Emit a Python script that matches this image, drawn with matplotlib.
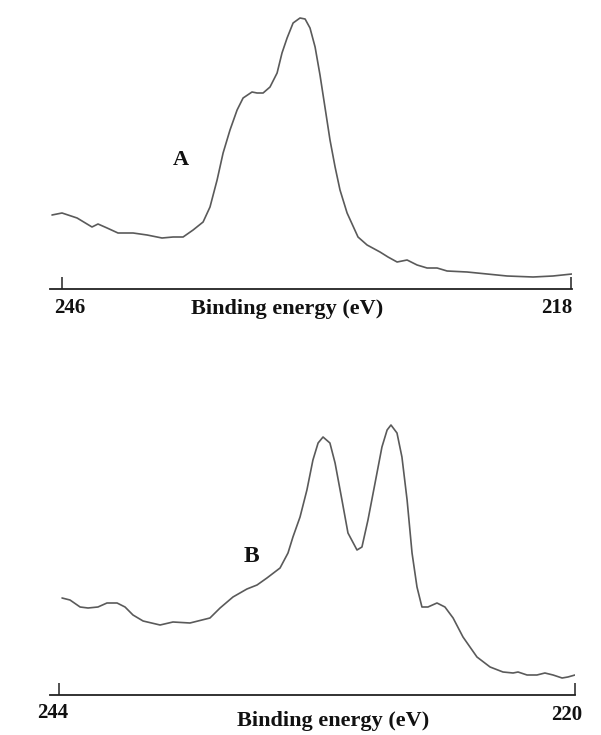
import matplotlib
matplotlib.use("Agg")
import matplotlib.pyplot as plt

# ---- Data (binding energy in eV, intensity in arbitrary units) ----
energy_a = [246.55, 246.0, 245.17, 244.35, 244.02, 243.52, 242.92, 242.09, 241.32, 240.50,
            239.89, 239.34, 238.79, 238.24, 237.86, 237.47, 237.14, 236.76, 236.37, 236.04,
            235.55, 235.27, 234.94, 234.56, 234.17, 233.90, 233.62, 233.29, 232.91, 232.63,
            232.36, 232.08, 231.81, 231.53, 231.26, 230.98, 230.71, 230.32, 229.72, 229.22,
            228.51, 228.07, 227.57, 227.02, 226.47, 225.92, 225.37, 224.82, 223.72, 222.62,
            221.52, 220.09, 219.0, 217.95]
intensity_a = [74, 76, 71, 62, 65, 61, 56, 56, 54, 51,
               52, 52, 59, 67, 82, 109, 136, 159, 179, 191,
               197, 196, 196, 202, 216, 236, 251, 266, 271, 270,
               261, 242, 214, 181, 149, 122, 99, 76, 52, 44,
               37, 32, 27, 29, 24, 21, 21, 18, 17, 15,
               13, 12, 13, 15]

energy_b = [243.86, 243.49, 243.02, 242.65, 242.19, 241.77, 241.30, 240.93, 240.56, 240.09,
            239.30, 238.70, 237.91, 236.98, 236.51, 235.91, 235.26, 234.79, 234.33, 233.72,
            233.35, 233.12, 232.79, 232.47, 232.19, 231.95, 231.72, 231.40, 231.16, 230.84,
            230.56, 230.14, 229.91, 229.63, 229.30, 228.98, 228.74, 228.56, 228.28, 228.05,
            227.81, 227.58, 227.35, 227.12, 226.84, 226.42, 226.05, 225.67, 225.21, 224.56,
            223.95, 223.35, 222.88, 222.65, 222.23, 221.77, 221.40, 221.02, 220.60, 220.33,
            220.0]
intensity_b = [97, 95, 88, 87, 88, 92, 92, 88, 80, 74,
               70, 73, 72, 77, 87, 98, 106, 110, 117, 127,
               142, 158, 178, 205, 235, 252, 258, 252, 232, 195,
               162, 145, 148, 175, 212, 248, 265, 270, 262, 238,
               195, 142, 108, 88, 88, 92, 88, 77, 58, 38,
               28, 23, 22, 23, 20, 20, 22, 20, 17, 18,
               20]

ticks_a = [246, 218]
ticks_b = [244, 220]
tick_labels_a = ["246", "218"]
tick_labels_b = ["244", "220"]
xlabel = "Binding energy (eV)"
panel_labels = ["A", "B"]

W, H = 601, 735
fig = plt.figure(figsize=(W / 100, H / 100), dpi=100)

def px_axes(x0, x1, y_top, y_bot):
    return fig.add_axes([x0 / W, 1 - y_bot / H, (x1 - x0) / W, (y_bot - y_top) / H])

serif = "Liberation Serif"
curve_color = "#5a5a5a"

def style(ax, xlim, ylim, ticks):
    ax.set_xlim(*xlim)
    ax.set_ylim(*ylim)
    for s in ["top", "left", "right"]:
        ax.spines[s].set_visible(False)
    ax.spines["bottom"].set_linewidth(1.3)
    ax.spines["bottom"].set_color("#222222")
    ax.set_yticks([])
    ax.set_xticks(ticks)
    ax.set_xticklabels([])
    ax.tick_params(axis="x", direction="in", length=8.5, width=1.1, color="#222222")
    ax.patch.set_alpha(0)

# Top panel (A)
ax1 = px_axes(50, 572, 0, 289)
ax1.plot(energy_a, intensity_a, color=curve_color, lw=1.2,
         solid_joinstyle="round", solid_capstyle="round")
style(ax1, (246.66, 217.95), (0, 289), ticks_a)

# Bottom panel (B)
ax2 = px_axes(50, 575, 395, 695)
ax2.plot(energy_b, intensity_b, color=curve_color, lw=1.2,
         solid_joinstyle="round", solid_capstyle="round")
style(ax2, (244.42, 220.0), (0, 300), ticks_b)

def ftext(x, y, s, size):
    fig.text(x / W, 1 - y / H, s, fontsize=size, fontfamily=serif, fontweight="bold",
             ha="center", va="center", color="#111111")

ftext(70, 308, tick_labels_a[0], 15)
ftext(287, 309, xlabel, 16)
ftext(557, 308, tick_labels_a[1], 15)
ftext(181, 160, panel_labels[0], 16)

ftext(53, 713, tick_labels_b[0], 15)
ftext(333, 721, xlabel, 16)
ftext(567, 715, tick_labels_b[1], 15)
ftext(251, 556, panel_labels[1], 17)

fig.savefig("out.png", dpi=100)
